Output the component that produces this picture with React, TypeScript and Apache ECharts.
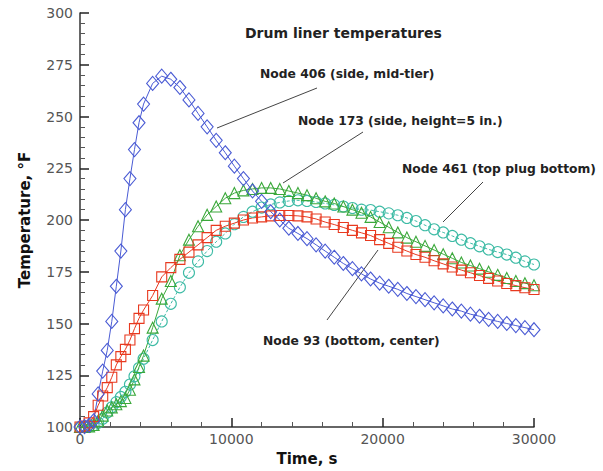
import React, { useEffect, useRef } from "react";
import * as echarts from "echarts";

const times = [0, 300, 600, 900, 1200, 1500, 1800, 2100, 2400, 2700, 3000, 3300, 3600, 3900, 4200, 4800, 5400, 6000, 6600, 7200, 7800, 8400, 9000, 9600, 10200, 10800, 11400, 12000, 12600, 13200, 13800, 14400, 15000, 15600, 16200, 16800, 17400, 18000, 18600, 19200, 19800, 20400, 21000, 21600, 22200, 22800, 23400, 24000, 24600, 25200, 25800, 26400, 27000, 27600, 28200, 28800, 29400, 30000];

const node406 = [100, 100.2, 100.8, 103, 116, 127, 137, 151, 168, 185, 205, 220, 234, 247, 256, 266, 269.5, 268, 264, 258, 251.5, 245, 238.5, 232.5, 226, 220, 214, 209, 204, 200, 196, 193.5, 191, 188, 185, 182, 179, 176.5, 174, 171.5, 169.5, 168, 166.5, 164.5, 163, 161.5, 160, 158.5, 157, 156, 154.5, 153.5, 152, 151, 150, 149, 148, 147];

const node93 = [100, 100.5, 102, 105, 110.5, 115, 119, 124, 130, 134, 137.5, 142, 147.5, 152.5, 156.5, 163.5, 172.5, 177, 181, 184.5, 188, 191.5, 195, 197, 198.5, 200, 201, 201.5, 202, 202.2, 202.2, 202, 201.5, 200.5, 199, 197.8, 196.4, 195, 193.8, 192.5, 190.5, 188.7, 186.8, 185, 183.3, 182, 180.3, 178.8, 177.3, 175.8, 174.5, 173.2, 171.8, 170.5, 169.3, 168.3, 167.3, 166.4];

const node173 = [100, 100, 100.3, 101, 103, 105.5, 108, 109.5, 111, 112.5, 114, 118, 123, 129, 134.5, 148, 162, 170.5, 183, 190.5, 197, 202.5, 206.5, 210.5, 213, 214.3, 215, 215.5, 215.5, 215, 214, 213, 212, 210.5, 209, 208, 206.5, 205, 203.5, 201.5, 199, 196.5, 194, 191.5, 189.5, 187.5, 185.5, 183.5, 181.5, 179.5, 178, 176.5, 175, 173.5, 172, 170.5, 169.5, 168.5];

const node461 = [100, 100, 100.2, 100.8, 102, 104, 107, 109.5, 112, 114.5, 117, 120.5, 124.5, 128.5, 133, 142, 151, 159.5, 167.5, 174.5, 180, 185, 189.5, 193.5, 198, 201.5, 204, 206, 207.5, 208.5, 209.2, 209.5, 209.2, 208.7, 208, 207.3, 206.5, 205.8, 205, 204.8, 204, 203.2, 202.3, 201, 199.5, 197.5, 195.5, 194, 192.3, 190.5, 188.8, 187.3, 185.8, 184.5, 183.3, 181.8, 180, 178.5];

const yTicks = { min: 100, max: 300, interval: 25 };
const xTicks = { min: 0, max: 30000, interval: 10000 };

const pairs = (vals: number[]) => times.map((t, i) => [t, vals[i]]);

const mkSeries = (name: string, vals: number[], color: string, symbol: string, size: any, dashed = false) => ({
  name,
  type: "line",
  data: pairs(vals),
  symbol,
  symbolSize: size,
  showAllSymbol: true,
  lineStyle: { color, width: 1, type: dashed ? [3, 2] : "solid" },
  itemStyle: { color: "rgba(0,0,0,0)", borderColor: color, borderWidth: 1.1 },
  emphasis: { disabled: true },
});

const labelFont = "DejaVu Sans";

export default function App() {
  const ref = useRef<HTMLDivElement>(null);
  useEffect(() => {
    const chart = echarts.init(ref.current!, undefined, { renderer: "svg" });
    const annText = (text: string, x: number, y: number, size = 12.3) => ({
      type: "text",
      x,
      y,
      style: { text, fill: "#222", font: `bold ${size}px "${labelFont}"`, textVerticalAlign: "middle" },
    });
    const leader = (x1: number, y1: number, x2: number, y2: number) => ({
      type: "line",
      shape: { x1, y1, x2, y2 },
      style: { stroke: "#444", lineWidth: 1 },
    });
    chart.setOption({
      animation: false,
      backgroundColor: "#fff",
      grid: { left: 80, top: 13, right: 69, bottom: 39 },
      xAxis: {
        type: "value",
        min: xTicks.min,
        max: xTicks.max,
        interval: xTicks.interval,
        name: "Time, s",
        nameLocation: "middle",
        nameGap: 24,
        nameTextStyle: { fontFamily: labelFont, fontWeight: "bold", fontSize: 15, color: "#111" },
        axisLine: { lineStyle: { color: "#333", width: 1.5 } },
        axisTick: { inside: true, length: 9, lineStyle: { color: "#222", width: 1.5 } },
        minorTick: { show: true, splitNumber: 5, length: 5, lineStyle: { color: "#555" } },
        splitLine: { show: false },
        axisLabel: { fontFamily: "DejaVu Sans", fontSize: 14, color: "#555", margin: 5, formatter: (v: number) => String(v) },
      },
      yAxis: {
        type: "value",
        min: yTicks.min,
        max: yTicks.max,
        interval: yTicks.interval,
        name: "Temperature, \u00b0F",
        nameLocation: "middle",
        nameGap: 48,
        nameTextStyle: { fontFamily: labelFont, fontWeight: "bold", fontSize: 15, color: "#111" },
        axisLine: { lineStyle: { color: "#333", width: 1.5 } },
        axisTick: { inside: true, length: 9, lineStyle: { color: "#222", width: 1.5 } },
        minorTick: { show: true, splitNumber: 5, length: 5, lineStyle: { color: "#555" } },
        splitLine: { show: false },
        axisLabel: { fontFamily: "DejaVu Sans", fontSize: 14, color: "#555", margin: 7, formatter: (v: number) => String(v) },
      },
      series: [
        mkSeries("Node 461 (top plug bottom)", node461, "#3dbba5", "circle", 11, true),
        mkSeries("Node 173 (side, height=5 in.)", node173, "#3aa83a", "triangle", 11),
        mkSeries("Node 93 (bottom, center)", node93, "#e8391f", "rect", 10),
        mkSeries("Node 406 (side, mid-tier)", node406, "#4a5bd4", "diamond", [12, 14]),
      ],
      graphic: [
        annText("Drum liner temperatures", 245, 33, 14),
        annText("Node 406 (side, mid-tier)", 260, 74),
        annText("Node 173 (side, height=5 in.)", 298, 121),
        annText("Node 461 (top plug bottom)", 402, 169),
        annText("Node 93 (bottom, center)", 263, 341),
        leader(217, 128, 317, 88),
        leader(283, 183, 363, 132),
        leader(483, 182, 443, 222),
        leader(327, 320, 378, 250),
      ],
    });
    return () => chart.dispose();
  }, []);
  return <div ref={ref} style={{ position: "fixed", left: 0, top: 0, width: 603, height: 471 }} />;
}
